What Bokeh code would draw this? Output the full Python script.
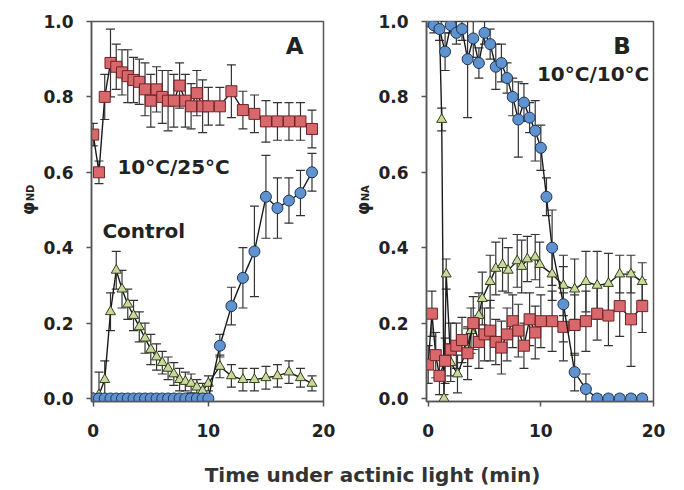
import math
from bokeh.plotting import figure
from bokeh.models import (ColumnDataSource, Whisker, TeeHead, Label, Range1d,
                          FixedTicker, NumeralTickFormatter)
from bokeh.layouts import column, row
from bokeh.embed import file_html
from bokeh.resources import INLINE

# ---------------- data ----------------
x_ticks = [0, 10, 20]
y_ticks = [0.0, 0.2, 0.4, 0.6, 0.8, 1.0]

# Panel A
tA = [0, 0.5, 1, 1.5, 2, 2.5, 3, 3.5, 4, 4.5, 5, 5.5, 6, 6.5, 7, 7.5, 8, 8.5, 9, 9.5, 10,
      11, 12, 13, 14, 15, 16, 17, 18, 19]
a_red = [0.70, 0.60, 0.80, 0.89, 0.88, 0.865, 0.855, 0.845, 0.84, 0.82, 0.79, 0.82, 0.80, 0.79,
         0.79, 0.83, 0.79, 0.775, 0.81, 0.775, 0.775, 0.775, 0.815, 0.765, 0.755, 0.735, 0.735,
         0.735, 0.735, 0.715]
a_red_err = [0.03, 0.03, 0.06, 0.09, 0.06, 0.06, 0.07, 0.06, 0.06, 0.07, 0.07, 0.06, 0.07, 0.08,
             0.07, 0.06, 0.07, 0.06, 0.06, 0.07, 0.05, 0.05, 0.07, 0.05, 0.05, 0.055, 0.05, 0.05,
             0.05, 0.05]
a_blue = [0, 0, 0, 0, 0, 0, 0, 0, 0, 0, 0, 0, 0, 0, 0, 0, 0, 0, 0, 0, 0,
          0.14, 0.245, 0.32, 0.39, 0.535, 0.505, 0.525, 0.545, 0.60]
a_blue_err = [0.005, 0.005, 0.005, 0.005, 0.005, 0.005, 0.005, 0.005, 0.005, 0.005, 0.005,
              0.005, 0.005, 0.005, 0.005, 0.005, 0.005, 0.005, 0.005, 0.005, 0.005,
              0.03, 0.05, 0.08, 0.12, 0.11, 0.08, 0.06, 0.06, 0.05]
a_green = [0.0, 0.01, 0.05, 0.23, 0.34, 0.29, 0.25, 0.22, 0.19, 0.16, 0.13, 0.11, 0.095, 0.08,
           0.065, 0.05, 0.045, 0.04, 0.03, 0.02, 0.04, 0.085, 0.06, 0.05, 0.05, 0.055, 0.06,
           0.07, 0.055, 0.04]
a_green_err = [0.01, 0.06, 0.05, 0.05, 0.05, 0.05, 0.04, 0.04, 0.04, 0.04, 0.04, 0.035, 0.03,
               0.03, 0.03, 0.03, 0.025, 0.025, 0.02, 0.02, 0.02, 0.03, 0.03, 0.03, 0.03, 0.03,
               0.03, 0.03, 0.025, 0.02]

# Panel B
tB_blue = [0, 0.5, 1, 1.5, 2, 2.5, 3, 3.5, 4, 4.5, 5, 5.5, 6, 6.5, 7, 7.5, 8, 8.5, 9, 9.5, 10,
           10.5, 11, 12, 13, 14, 15, 16, 17, 18, 19]
b_blue = [1.00, 0.99, 0.98, 0.92, 0.99, 0.97, 0.98, 0.90, 0.955, 0.89, 0.97, 0.94, 0.88, 0.89,
          0.85, 0.80, 0.74, 0.785, 0.745, 0.71, 0.665, 0.535, 0.40, 0.25, 0.07, 0.025,
          0.0, 0.0, 0.0, 0.0, 0.0]
b_blue_err = [0.01, 0.02, 0.03, 0.05, 0.02, 0.03, 0.03, 0.155, 0.05, 0.04, 0.03, 0.04, 0.06,
              0.05, 0.04, 0.05, 0.10, 0.05, 0.04, 0.08, 0.06, 0.05, 0.10, 0.10, 0.05, 0.04,
              0.01, 0.01, 0.01, 0.01, 0.01]
tB_green = [0, 1.0, 1.2, 1.4, 1.6, 2.0, 2.6, 3.5, 3.8, 4.5, 4.8, 5.5, 6.0, 6.6, 7.1, 7.9, 8.3,
            8.8, 9.5, 9.9, 11, 12, 13, 14, 15, 16, 17, 18, 19]
b_green = [1.0, 0.99, 0.74, 0.0, 0.33, 0.095, 0.065, 0.135, 0.18, 0.22, 0.265, 0.31, 0.345,
           0.355, 0.34, 0.365, 0.35, 0.37, 0.375, 0.355, 0.33, 0.30, 0.29, 0.31, 0.30, 0.305,
           0.33, 0.33, 0.31]
b_green_err = [0.01, 0.01, 0.03, 0.01, 0.04, 0.05, 0.05, 0.05, 0.06, 0.06, 0.07, 0.07, 0.07,
               0.07, 0.06, 0.07, 0.07, 0.06, 0.06, 0.06, 0.07, 0.08, 0.08, 0.08, 0.09, 0.08,
               0.05, 0.05, 0.05]
tB_red = [0, 0.33, 0.67, 1, 1.5, 2, 2.5, 3, 3.5, 4, 4.5, 5, 5.5, 6, 6.5, 7, 7.5, 8, 8.5, 9,
          9.5, 10, 11, 12, 13, 14, 15, 16, 17, 18, 19]
b_red = [0.09, 0.225, 0.115, 0.06, 0.10, 0.13, 0.14, 0.155, 0.12, 0.20, 0.15, 0.17, 0.18, 0.15,
         0.135, 0.17, 0.205, 0.18, 0.14, 0.21, 0.175, 0.205, 0.205, 0.19, 0.195, 0.205, 0.225,
         0.22, 0.245, 0.21, 0.245]
b_red_err = [0.05, 0.06, 0.06, 0.05, 0.06, 0.07, 0.06, 0.06, 0.07, 0.07, 0.07, 0.07, 0.08, 0.06,
             0.07, 0.07, 0.07, 0.07, 0.06, 0.07, 0.07, 0.07, 0.08, 0.09, 0.08, 0.08, 0.07, 0.08,
             0.08, 0.125, 0.07]

# ---------------- style ----------------
FONT = "DejaVu Sans"
INK = "#222222"
FRAME = "#555555"
RED_FILL, RED_EDGE = "#d9686c", "#6e2426"
BLUE_FILL, BLUE_EDGE = "#5e93cf", "#1f3558"
GREEN_FILL, GREEN_EDGE = "#c9d89c", "#34421a"
ERR = "#333333"


def make_panel(width, left, right):
    p = figure(width=width, height=450, output_backend="svg", toolbar_location=None,
               x_range=Range1d(-0.15, 20), y_range=Range1d(-0.008, 1.0),
               min_border_left=left, min_border_right=right,
               min_border_top=21, min_border_bottom=49)
    p.grid.visible = False
    p.background_fill_color = "white"
    p.border_fill_color = "white"
    p.outline_line_color = FRAME
    p.outline_line_width = 1.5
    for ax in (p.xaxis[0], p.yaxis[0]):
        ax.axis_line_color = FRAME
        ax.axis_line_width = 1.5
        ax.major_tick_line_color = FRAME
        ax.major_tick_line_width = 1.5
        ax.minor_tick_line_color = None
        ax.major_tick_in = 0
        ax.major_tick_out = 5
        ax.major_label_text_font = FONT
        ax.major_label_text_font_style = "bold"
        ax.major_label_text_font_size = "17px"
        ax.major_label_text_color = INK
    p.xaxis.ticker = FixedTicker(ticks=x_ticks)
    p.yaxis.ticker = FixedTicker(ticks=y_ticks)
    p.yaxis.formatter = NumeralTickFormatter(format="0.0")
    p.xaxis.major_label_standoff = 17
    p.yaxis.major_label_standoff = 13
    return p


def add_series(p, t, v, e, marker, fill, edge, size):
    src = ColumnDataSource(dict(t=t, v=v,
                                lo=[a - b for a, b in zip(v, e)],
                                up=[a + b for a, b in zip(v, e)]))
    w = Whisker(base="t", lower="lo", upper="up", source=src,
                line_color=ERR, line_width=1.2,
                upper_head=TeeHead(size=9, line_color=ERR, line_width=1.2),
                lower_head=TeeHead(size=9, line_color=ERR, line_width=1.2))
    p.add_layout(w)
    p.line("t", "v", source=src, line_color="#1a1a1a", line_width=1.4)
    p.scatter("t", "v", source=src, marker=marker, size=size,
              fill_color=fill, line_color=edge, line_width=1)


def text(p, x, y, s, size, align="left"):
    p.add_layout(Label(x=x, y=y, text=s, text_font=FONT, text_font_style="bold",
                       text_font_size=size, text_color=INK, text_align=align,
                       text_baseline="middle"))


def blank(width, height):
    f = figure(width=width, height=height, output_backend="svg", toolbar_location=None,
               x_range=Range1d(0, width), y_range=Range1d(0, height), min_border=0,
               x_axis_location=None, y_axis_location=None)
    f.grid.visible = False
    f.outline_line_color = None
    return f


def ylabel_fig(width, x, sub):
    f = blank(width, 450)
    f.add_layout(Label(x=x, y=221, text="φ", angle=math.pi / 2, text_font=FONT,
                       text_font_size="17px", text_font_style="bold", text_color=INK,
                       text_align="left", text_baseline="alphabetic"))
    f.add_layout(Label(x=x + 3, y=237, text=sub, angle=math.pi / 2, text_font=FONT,
                       text_font_size="10px", text_font_style="bold", text_color=INK,
                       text_align="left", text_baseline="alphabetic"))
    return f


# Panel A
yA = ylabel_fig(40, 27, "ND")
pA = make_panel(305, 51, 22)
add_series(pA, tA, a_green, a_green_err, "triangle", GREEN_FILL, GREEN_EDGE, 10)
add_series(pA, tA, a_blue, a_blue_err, "circle", BLUE_FILL, BLUE_EDGE, 11)
add_series(pA, tA, a_red, a_red_err, "square", RED_FILL, RED_EDGE, 11)
text(pA, 17.5, 0.934, "A", "23px", "center")
text(pA, 2.1, 0.615, "10°C/25°C", "20px")
text(pA, 0.8, 0.445, "Control", "20px")

# Panel B
yB = ylabel_fig(30, 17, "NA")
pB = make_panel(309, 50, 31)
add_series(pB, tB_green, b_green, b_green_err, "triangle", GREEN_FILL, GREEN_EDGE, 10)
add_series(pB, tB_red, b_red, b_red_err, "square", RED_FILL, RED_EDGE, 11)
add_series(pB, tB_blue, b_blue, b_blue_err, "circle", BLUE_FILL, BLUE_EDGE, 11)
text(pB, 17.2, 0.934, "B", "23px", "center")
text(pB, 9.65, 0.86, "10°C/10°C", "20px")

# shared x title
pT = blank(684, 40)
pT.add_layout(Label(x=372, y=16, text="Time under actinic light (min)", text_font=FONT,
                    text_font_style="bold", text_font_size="20px", text_color="#333333",
                    text_align="center", text_baseline="middle"))

layout = column(row(yA, pA, yB, pB), pT)
open("out.html", "w").write(file_html(layout, INLINE))
